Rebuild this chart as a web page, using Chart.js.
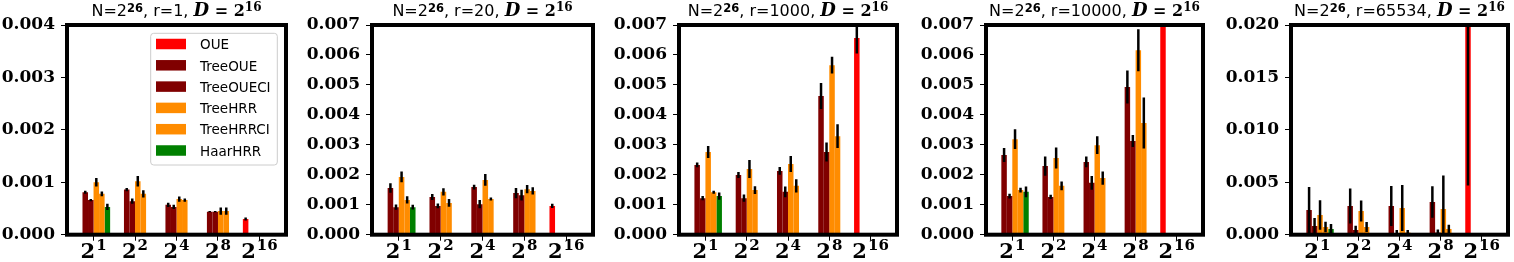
<!DOCTYPE html>
<html><head><meta charset="utf-8">
<script src="https://cdn.jsdelivr.net/npm/chart.js@4.4.0/dist/chart.umd.min.js"></script>
<style>
html,body{margin:0;padding:0;background:#fff;width:1514px;height:262px;overflow:hidden;position:relative}
canvas{position:absolute;top:0}
</style></head><body>
<script>
// ---------- data ----------
const categories = ['2^1', '2^2', '2^4', '2^8', '2^16'];
const seriesNames = ['OUE', 'TreeOUE', 'TreeOUECI', 'TreeHRR', 'TreeHRRCI', 'HaarHRR'];
const seriesColors = ['#ff0000', '#800000', '#800000', '#ff8c00', '#ff8c00', '#008000'];
const rValues = ['1', '20', '1000', '10000', '65534'];

// r = 1
const r1_OUE = [null, null, null, null, 0.00030];
const r1_OUE_err = [null, null, null, null, 0.00003];
const r1_TreeOUE = [0.00081, 0.00086, 0.00057, 0.00044, null];
const r1_TreeOUE_err = [0.00003, 0.00003, 0.00004, 0.00001, null];
const r1_TreeOUECI = [0.00066, 0.00064, 0.00053, 0.00044, null];
const r1_TreeOUECI_err = [0.00002, 0.00005, 0.00004, 0.00001, null];
const r1_TreeHRR = [0.00100, 0.00102, 0.00068, 0.00045, null];
const r1_TreeHRR_err = [0.00008, 0.00010, 0.00005, 0.00007, null];
const r1_TreeHRRCI = [0.00078, 0.00078, 0.00066, 0.00045, null];
const r1_TreeHRRCI_err = [0.000045, 0.00007, 0.00003, 0.00007, null];
const r1_HaarHRR = [0.00053, null, null, null, null];
const r1_HaarHRR_err = [0.00006, null, null, null, null];

// r = 20
const r20_OUE = [null, null, null, null, 0.00096];
const r20_OUE_err = [null, null, null, null, 0.00007];
const r20_TreeOUE = [0.00156, 0.00126, 0.00159, 0.00139, null];
const r20_TreeOUE_err = [0.00016, 0.00010, 0.00008, 0.00017, null];
const r20_TreeOUECI = [0.00092, 0.00096, 0.00102, 0.00132, null];
const r20_TreeOUECI_err = [0.00009, 0.00008, 0.00014, 0.00018, null];
const r20_TreeHRR = [0.00193, 0.00143, 0.00183, 0.00152, null];
const r20_TreeHRR_err = [0.00018, 0.00012, 0.00020, 0.00014, null];
const r20_TreeHRRCI = [0.00116, 0.00106, 0.00119, 0.00146, null];
const r20_TreeHRRCI_err = [0.00012, 0.00013, 0.00005, 0.00012, null];
const r20_HaarHRR = [0.00092, null, null, null, null];
const r20_HaarHRR_err = [0.00008, null, null, null, null];

// r = 1000
const r1000_OUE = [null, null, null, null, 0.00657];
const r1000_OUE_err = [null, null, null, null, 0.00052];
const r1000_TreeOUE = [0.00233, 0.00199, 0.00213, 0.00463, null];
const r1000_TreeOUE_err = [0.00008, 0.00010, 0.00013, 0.00043, null];
const r1000_TreeOUECI = [0.00122, 0.00122, 0.00143, 0.00276, null];
const r1000_TreeOUECI_err = [0.00007, 0.00012, 0.00018, 0.00032, null];
const r1000_TreeHRR = [0.00276, 0.00219, 0.00236, 0.00566, null];
const r1000_TreeHRR_err = [0.00020, 0.00030, 0.00027, 0.00028, null];
const r1000_TreeHRRCI = [0.00142, 0.00149, 0.00163, 0.00329, null];
const r1000_TreeHRRCI_err = [0.00005, 0.00013, 0.00022, 0.00040, null];
const r1000_HaarHRR = [0.00129, null, null, null, null];
const r1000_HaarHRR_err = [0.00012, null, null, null, null];

// r = 10000
const r10000_OUE = [null, null, null, null, 0.0115];
const r10000_OUE_err = [null, null, null, null, 0.0030];
const r10000_TreeOUE = [0.00266, 0.00229, 0.00243, 0.00493, null];
const r10000_TreeOUE_err = [0.00023, 0.00032, 0.00018, 0.00055, null];
const r10000_TreeOUECI = [0.00129, 0.00126, 0.00173, 0.00313, null];
const r10000_TreeOUECI_err = [0.00008, 0.00007, 0.00023, 0.00020, null];
const r10000_TreeHRR = [0.00319, 0.00256, 0.00299, 0.00616, null];
const r10000_TreeHRR_err = [0.00033, 0.00035, 0.00030, 0.00070, null];
const r10000_TreeHRRCI = [0.00149, 0.00163, 0.00189, 0.00373, null];
const r10000_TreeHRRCI_err = [0.00008, 0.00015, 0.00022, 0.00085, null];
const r10000_HaarHRR = [0.00143, null, null, null, null];
const r10000_HaarHRR_err = [0.00018, null, null, null, null];

// r = 65534
const r65534_OUE = [null, null, null, null, 0.035];
const r65534_OUE_err = [null, null, null, null, 0.0303];
const r65534_TreeOUE = [0.00235, 0.00274, 0.00274, 0.00312, null];
const r65534_TreeOUE_err = [0.00220, 0.00167, 0.00190, 0.00150, null];
const r65534_TreeOUECI = [0.00083, 0.00045, 0.00010, 0.00020, null];
const r65534_TreeOUECI_err = [0.00076, 0.00040, 0.00035, 0.00030, null];
const r65534_TreeHRR = [0.00188, 0.00226, 0.00255, 0.00245, null];
const r65534_TreeHRR_err = [0.00140, 0.00100, 0.00220, 0.00320, null];
const r65534_TreeHRRCI = [0.00073, 0.00073, 0.00020, 0.00054, null];
const r65534_TreeHRRCI_err = [0.00050, 0.00048, 0.00025, 0.00040, null];
const r65534_HaarHRR = [0.00054, null, null, null, null];
const r65534_HaarHRR_err = [0.00048, null, null, null, null];

// y tick values
const yTicks_r1 = [0, 0.001, 0.002, 0.003, 0.004];
const yTicks_mid = [0, 0.001, 0.002, 0.003, 0.004, 0.005, 0.006, 0.007];
const yTicks_r65534 = [0, 0.005, 0.010, 0.015, 0.020];

// ---------- layout ----------
const AXW = 67;          // y-axis width
const TOP = 25;          // chart area top
const BOTTOM = 234.7;    // chart area bottom
const panels = [
  { r: rValues[0], left: 67,   right: 286,  yTicks: yTicks_r1,
    vals: [r1_OUE, r1_TreeOUE, r1_TreeOUECI, r1_TreeHRR, r1_TreeHRRCI, r1_HaarHRR],
    errs: [r1_OUE_err, r1_TreeOUE_err, r1_TreeOUECI_err, r1_TreeHRR_err, r1_TreeHRRCI_err, r1_HaarHRR_err], legend: true },
  { r: rValues[1], left: 372,  right: 593,  yTicks: yTicks_mid,
    vals: [r20_OUE, r20_TreeOUE, r20_TreeOUECI, r20_TreeHRR, r20_TreeHRRCI, r20_HaarHRR],
    errs: [r20_OUE_err, r20_TreeOUE_err, r20_TreeOUECI_err, r20_TreeHRR_err, r20_TreeHRRCI_err, r20_HaarHRR_err] },
  { r: rValues[2], left: 679,  right: 897,  yTicks: yTicks_mid,
    vals: [r1000_OUE, r1000_TreeOUE, r1000_TreeOUECI, r1000_TreeHRR, r1000_TreeHRRCI, r1000_HaarHRR],
    errs: [r1000_OUE_err, r1000_TreeOUE_err, r1000_TreeOUECI_err, r1000_TreeHRR_err, r1000_TreeHRRCI_err, r1000_HaarHRR_err] },
  { r: rValues[3], left: 986,  right: 1203, yTicks: yTicks_mid,
    vals: [r10000_OUE, r10000_TreeOUE, r10000_TreeOUECI, r10000_TreeHRR, r10000_TreeHRRCI, r10000_HaarHRR],
    errs: [r10000_OUE_err, r10000_TreeOUE_err, r10000_TreeOUECI_err, r10000_TreeHRR_err, r10000_TreeHRRCI_err, r10000_HaarHRR_err] },
  { r: rValues[4], left: 1291, right: 1508, yTicks: yTicks_r65534,
    vals: [r65534_OUE, r65534_TreeOUE, r65534_TreeOUECI, r65534_TreeHRR, r65534_TreeHRRCI, r65534_HaarHRR],
    errs: [r65534_OUE_err, r65534_TreeOUE_err, r65534_TreeOUECI_err, r65534_TreeHRR_err, r65534_TreeHRRCI_err, r65534_HaarHRR_err] }
];

// ---------- plugins ----------
const decorPlugin = {
  id: 'decor',
  afterDatasetsDraw(chart) {
    const ctx = chart.ctx, a = chart.chartArea, ys = chart.scales.y;
    // error bars
    ctx.save();
    ctx.beginPath();
    ctx.rect(a.left, a.top, a.right - a.left, a.bottom - a.top);
    ctx.clip();
    ctx.strokeStyle = '#000';
    ctx.lineWidth = 2.5;
    chart.data.datasets.forEach((ds, di) => {
      const meta = chart.getDatasetMeta(di);
      meta.data.forEach((bar, i) => {
        const v = ds.values[i], e = ds.errors[i];
        if (v == null || e == null) return;
        ctx.beginPath();
        ctx.moveTo(bar.x, ys.getPixelForValue(v - e));
        ctx.lineTo(bar.x, ys.getPixelForValue(v + e));
        ctx.stroke();
      });
    });
    ctx.restore();
    // frame
    ctx.save();
    ctx.strokeStyle = '#000';
    ctx.lineWidth = 4;
    ctx.strokeRect(a.left, a.top, a.right - a.left, a.bottom - a.top);
    ctx.restore();
  },
  afterDraw(chart) {
    const ctx = chart.ctx, a = chart.chartArea, xs = chart.scales.x;
    const p = chart.options.plugins.decor;
    ctx.save();
    ctx.fillStyle = '#000';
    ctx.textAlign = 'left';
    ctx.textBaseline = 'alphabetic';
    // x tick labels with superscripts
    categories.forEach((c, i) => {
      const parts = c.split('^');
      const px = xs.getPixelForValue(i);
      ctx.font = 'bold 21px "DejaVu Serif"';
      const wb = ctx.measureText(parts[0]).width;
      ctx.font = 'bold 15px "DejaVu Serif"';
      const we = ctx.measureText(parts[1]).width;
      const x0 = px - (wb + 1 + we) / 2;
      ctx.font = 'bold 21px "DejaVu Serif"';
      ctx.fillText(parts[0], x0, 258);
      ctx.font = 'bold 15px "DejaVu Serif"';
      ctx.fillText(parts[1], x0 + wb + 1, 250);
    });
    // title
    const segs = [
      { t: 'N=2', f: '16px "DejaVu Sans"', dy: 0 },
      { t: '26', f: 'bold 11.5px "DejaVu Sans"', dy: -4.5 },
      { t: ', r=' + p.r + ', ', f: '16px "DejaVu Sans"', dy: 0 },
      { t: 'D', f: 'italic bold 18px "DejaVu Serif"', dy: 0 },
      { t: ' = 2', f: 'bold 16px "DejaVu Serif"', dy: 0 },
      { t: '16', f: 'bold 12px "DejaVu Serif"', dy: -5 }
    ];
    let tw = 0;
    segs.forEach(s => { ctx.font = s.f; s.w = ctx.measureText(s.t).width; tw += s.w; });
    let tx = (a.left + a.right) / 2 - tw / 2;
    segs.forEach(s => { ctx.font = s.f; ctx.fillText(s.t, tx, 16 + s.dy); tx += s.w; });
    // legend
    if (p.legend) {
      const lx = 150.7 - p.canvasLeft, ly = 33.3, lw = 126.6, lh = 131.7, rad = 3;
      ctx.beginPath();
      ctx.moveTo(lx + rad, ly);
      ctx.arcTo(lx + lw, ly, lx + lw, ly + lh, rad);
      ctx.arcTo(lx + lw, ly + lh, lx, ly + lh, rad);
      ctx.arcTo(lx, ly + lh, lx, ly, rad);
      ctx.arcTo(lx, ly, lx + lw, ly, rad);
      ctx.closePath();
      ctx.fillStyle = 'rgba(255,255,255,0.8)';
      ctx.fill();
      ctx.strokeStyle = '#cccccc';
      ctx.lineWidth = 1;
      ctx.stroke();
      chart.data.datasets.forEach((ds, k) => {
        const yc = 44 + k * 21.3;
        ctx.fillStyle = ds.backgroundColor;
        ctx.fillRect(lx + 5.3, yc - 5.25, 30, 10.5);
        ctx.fillStyle = '#000';
        ctx.font = '13.5px "DejaVu Sans"';
        ctx.fillText(ds.label, lx + 49.3, yc + 5.25);
      });
    }
    ctx.restore();
  }
};

// ---------- build charts ----------
panels.forEach(p => {
  const canvasLeft = p.left - AXW;
  const rightPad = 6;
  const width = AXW + (p.right - p.left) + rightPad;
  const cv = document.createElement('canvas');
  cv.width = width; cv.height = 262;
  cv.style.left = canvasLeft + 'px';
  cv.style.width = width + 'px'; cv.style.height = '262px';
  document.body.appendChild(cv);
  const yTicks = p.yTicks;
  new Chart(cv, {
    type: 'bar',
    data: {
      datasets: seriesNames.map((name, k) => ({
        label: name,
        data: p.vals[k].map((v, i) => ({ x: i, y: v })),
        values: p.vals[k],
        errors: p.errs[k],
        backgroundColor: seriesColors[k],
        borderWidth: 0,
        categoryPercentage: 0.8,
        barPercentage: 1.0
      }))
    },
    options: {
      responsive: false,
      animation: false,
      devicePixelRatio: 1,
      layout: { padding: { top: TOP, right: rightPad, left: 0, bottom: 0 } },
      plugins: {
        legend: { display: false },
        tooltip: { enabled: false },
        title: { display: false },
        decor: { r: p.r, legend: !!p.legend, canvasLeft: canvasLeft }
      },
      scales: {
        x: {
          type: 'linear', min: -0.64, max: 4.64, offset: false,
          afterBuildTicks(s) { s.ticks = categories.map((c, i) => ({ value: i })); },
          afterFit(s) { s.height = 262 - BOTTOM; },
          ticks: { callback: () => '', autoSkip: false, maxRotation: 0 },
          grid: { drawOnChartArea: false, offset: false, tickLength: 6, tickWidth: 1, tickColor: '#000' },
          border: { display: false }
        },
        y: {
          min: 0, max: yTicks[yTicks.length - 1],
          afterBuildTicks(s) { s.ticks = yTicks.map(v => ({ value: v })); },
          afterFit(s) { s.width = AXW; },
          ticks: {
            autoSkip: false, padding: 6, color: '#000',
            font: { family: 'DejaVu Serif', weight: 'bold', size: 17 },
            callback: v => Number(v).toFixed(3)
          },
          grid: { drawOnChartArea: false, tickLength: 6, tickWidth: 1, tickColor: '#000' },
          border: { display: false }
        }
      }
    },
    plugins: [decorPlugin]
  });
});
</script>
</body></html>
